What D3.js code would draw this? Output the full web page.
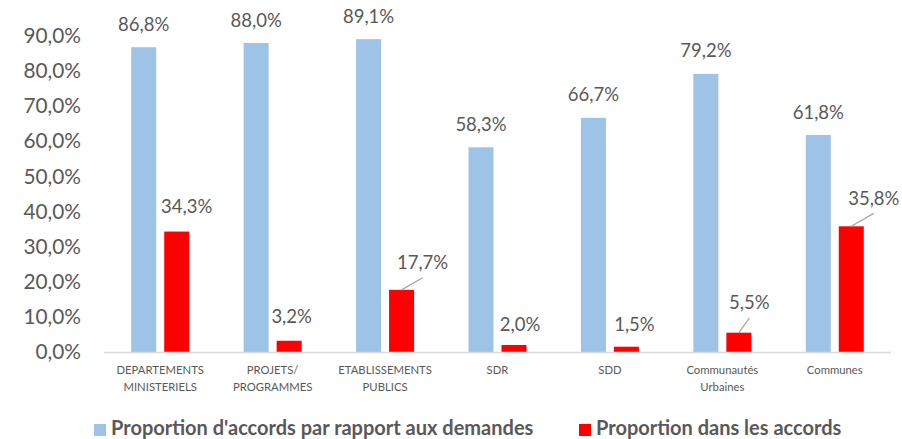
<!DOCTYPE html>
<html>
<head>
<meta charset="utf-8">
<script src="https://cdn.jsdelivr.net/npm/d3@7"></script>
<style>
	body { margin: 0; background: #fff; }
	svg text { font-family: Lato, "Open Sans", sans-serif; fill: #595959; }
</style>
</head>
<body>
<div id="container"></div>
<script>
// categories, two lines each
var categories = [
	["DEPARTEMENTS", "MINISTERIELS"],
	["PROJETS/", "PROGRAMMES"],
	["ETABLISSEMENTS", "PUBLICS"],
	["SDR"],
	["SDD"],
	["Communautés", "Urbaines"],
	["Communes"]
];
var seriesNames = ["Proportion d'accords par rapport aux demandes", "Proportion dans les accords"];
var demandes = [86.8, 88.0, 89.1, 58.3, 66.7, 79.2, 61.8];
var accords = [34.3, 3.2, 17.7, 2.0, 1.5, 5.5, 35.8];
var yTicks = [0, 10, 20, 30, 40, 50, 60, 70, 80, 90];

// manual nudges of the red labels (as moved in the original), and which have a leader line
var accordLabelNudge = [[10, -25.5], [2.5, -24], [21, -27.6], [6, -21], [8, -22.7], [10.5, -30], [22.5, -28.4]];
var accordLeader = [false, false, true, false, false, true, true];

var colors = ["#9dc3e6", "#ff0000"];

var W = 902, H = 439;
var margin = {top: 36, right: 11, bottom: 87, left: 104};
var width = W - margin.left - margin.right,
	height = H - margin.top - margin.bottom;

var fr = d3.formatLocale({decimal: ",", thousands: " ", grouping: [3], currency: ["", "€"]});
var pct = function(v) { return fr.format(".1f")(v) + "%"; };

var x0 = d3.scaleBand().domain(d3.range(categories.length)).range([0, width]);
var bw = x0.bandwidth();
var x1 = d3.scaleBand().domain([0, 1]).range([bw / 2 - 29, bw / 2 + 29]).paddingInner(0.242);
var y = d3.scaleLinear().domain([0, 90]).range([height, 0]);

var svg = d3.select("#container").append("svg")
	.attr("width", W)
	.attr("height", H);

var g = svg.append("g").attr("transform", "translate(" + margin.left + "," + margin.top + ")");

// y axis
var yAxis = d3.axisLeft(y).tickValues(yTicks).tickSize(0).tickPadding(23).tickFormat(pct);
g.append("g").attr("class", "y axis").call(yAxis)
	.call(s => s.select(".domain").remove())
	.selectAll("text")
	.style("font-size", "20.8px")
	.style("font-family", "Lato")
	.attr("fill", "#595959");

var rows = categories.map((c, i) => ({i: i, a: demandes[i], b: accords[i]}));

var grp = g.selectAll("g.cat").data(rows).enter().append("g")
	.attr("class", "cat")
	.attr("transform", d => "translate(" + x0(d.i) + ",0)");

grp.append("rect")
	.attr("x", x1(0))
	.attr("width", x1.bandwidth())
	.attr("y", d => y(d.a))
	.attr("height", d => y(0) - y(d.a))
	.attr("fill", colors[0]);

grp.append("rect")
	.attr("x", x1(1))
	.attr("width", x1.bandwidth())
	.attr("y", d => y(d.b))
	.attr("height", d => y(0) - y(d.b))
	.attr("fill", colors[1]);

// x axis line
g.append("line")
	.attr("x1", 0).attr("x2", width)
	.attr("y1", y(0) + 0.5).attr("y2", y(0) + 0.5)
	.attr("stroke", "#d9d9d9")
	.attr("stroke-width", 1.5);

// data labels
grp.append("text")
	.attr("x", x1(0) + x1.bandwidth() / 2)
	.attr("y", d => y(d.a) - 16.5)
	.attr("text-anchor", "middle")
	.style("font-size", "18.5px")
	.text(d => pct(d.a));

grp.filter(d => accordLeader[d.i]).append("line")
	.attr("x1", x1(1) + x1.bandwidth() / 2)
	.attr("y1", d => y(d.b))
	.attr("x2", d => x1(1) + x1.bandwidth() / 2 + accordLabelNudge[d.i][0])
	.attr("y2", d => y(d.b) + accordLabelNudge[d.i][1] + 15.5)
	.attr("stroke", "#a6a6a6")
	.attr("stroke-width", 1.3);

grp.append("text")
	.attr("x", d => x1(1) + x1.bandwidth() / 2 + accordLabelNudge[d.i][0])
	.attr("y", d => y(d.b) + accordLabelNudge[d.i][1] + 6.7)
	.attr("text-anchor", "middle")
	.style("font-size", "18.5px")
	.text(d => pct(d.b));

// category labels
grp.append("text")
	.attr("x", bw / 2)
	.attr("text-anchor", "middle")
	.style("font-size", "11.3px")
	.selectAll("tspan")
	.data(d => categories[d.i])
	.enter().append("tspan")
	.attr("x", bw / 2)
	.attr("y", (d, j) => height + 22 + j * 16.7)
	.text(d => d);

// legend
var legendX = [94, 579];
var leg = svg.append("g").attr("class", "legend");
seriesNames.forEach((name, i) => {
	leg.append("rect")
		.attr("x", legendX[i])
		.attr("y", 424)
		.attr("width", 12)
		.attr("height", 12)
		.attr("fill", colors[i]);
	leg.append("text")
		.attr("x", legendX[i] + 17)
		.attr("y", 435)
		.style("font-size", "20px")
		.style("font-weight", "bold")
		.text(name);
});
</script>
</body>
</html>
